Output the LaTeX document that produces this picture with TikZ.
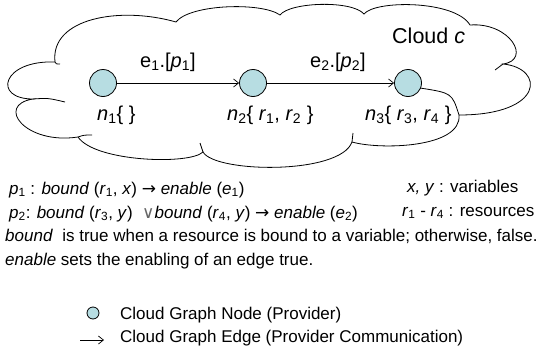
\documentclass[tikz,border=0pt]{standalone}
\usepackage{fontspec}
\setmainfont{Liberation Sans}
\newfontfamily\symbfont{DejaVu Sans}
\usetikzlibrary{arrows.meta}
\definecolor{nodefill}{RGB}{183,221,226}
\newcommand{\vsub}[2]{\textit{#1}\textsubscript{#2}}

\begin{document}
\begin{tikzpicture}[x=1pt,y=-1pt,
  cgnode/.style={circle,draw,fill=nodefill,inner sep=0pt,minimum size=27pt,line width=0.8pt},
  cgedge/.style={-{Straight Barb[length=5pt,width=8pt]},line width=0.7pt},
  big/.style={font=\fontsize{20}{24}\selectfont,inner sep=0pt,anchor=base west},
  txt/.style={font=\fontsize{17}{20}\selectfont,inner sep=0pt,anchor=base west}]
  \useasboundingbox (0,0) rectangle (548,356);
  % cloud outline
  \draw [line width=0.8pt] (33,99) .. controls (-8,99) and (2,60) .. (55,62)
    .. controls (50,18) and (120,6) .. (176,22)
    .. controls (190,4) and (262,2) .. (280,15)
    .. controls (290,2) and (352,0) .. (364,14)
    .. controls (375,0) and (455,0) .. (470,25)
    .. controls (510,22) and (532,60) .. (503,64)
    .. controls (545,68) and (545,115) .. (459,115)
    .. controls (462,148) and (380,150) .. (352,142)
    .. controls (340,175) and (215,173) .. (203,152)
    .. controls (190,165) and (95,162) .. (78,137)
    .. controls (25,145) and (-5,105) .. (33,99) -- cycle;
  % inner tails of the puffs
  \draw [line width=0.8pt] (33,99) .. controls (48,98) .. (65,102);
  \draw [line width=0.8pt] (78,137) .. controls (84,135) .. (92,135);
  \draw [line width=0.8pt] (203,152) .. controls (201,148) .. (200,143);
  \draw [line width=0.8pt] (352,142) .. controls (353,138) .. (353,133);
  \draw [line width=0.8pt] (459,115) .. controls (452,93) .. (420,88);
  \draw [line width=0.8pt] (503,64) -- (495,70);
  \draw [line width=0.8pt] (55,62) .. controls (56,64) .. (60,64);

  % graph
  \foreach \i/\x in {1/103,2/253,3/408}
    \node [cgnode] (n\i) at (\x,83) {};
  \draw [cgedge] (n1) -- (n2);
  \draw [cgedge] (n2) -- (n3);
  \node [big] (e1lab) at (140,67) {e\textsubscript{1}.[\vsub{p}{1}]};
  \node [big] (e2lab) at (310,67) {e\textsubscript{2}.[\vsub{p}{2}]};
  \node [big] (n1lab) at (97,120) {\vsub{n}{1}\{ \}};
  \node [big] (n2lab) at (227,120) {\vsub{n}{2}\{ \vsub{r}{1}, \vsub{r}{2} \}};
  \node [big] (n3lab) at (365,120) {\vsub{n}{3}\{ \vsub{r}{3}, \vsub{r}{4} \}};
  \node [big, font=\fontsize{21.5}{25}\selectfont] (cloudlab) at (392,43) {Cloud \textit{c}};

  % predicates
  \node [txt] (pred1) at (9,194) {\vsub{p}{1} : \textit{bound} (\vsub{r}{1}, \textit{x}) {\symbfont→} \textit{enable} (\vsub{e}{1})};
  \node [txt] (pred2) at (9,218) {\vsub{p}{2}: \textit{bound} (\vsub{r}{3}, \textit{y})\ \ {\symbfont\color{black!60}∨}\textit{bound} (\vsub{r}{4}, \textit{y}) {\symbfont→} \textit{enable} (\vsub{e}{2})};
  \node [txt] (vars) at (407,192) {\textit{x, y} : variables};
  \node [txt] (res) at (402,216) {\vsub{r}{1} - \vsub{r}{4} : resources};
  \node [txt] (bnd) at (5,241) {\textit{bound}\ \ is true when a resource is bound to a variable; otherwise, false.};
  \node [txt] (enb) at (5,265) {\textit{enable} sets the enabling of an edge true.};

  % legend
  \node [cgnode, minimum size=12pt] (legnode) at (93,313) {};
  \coordinate (legA) at (80,340);
  \coordinate (legB) at (104,340);
  \draw [cgedge] (legA) -- (legB);
  \node [txt] (legnodetxt) at (120,319) {Cloud Graph Node (Provider)};
  \node [txt] (legedgetxt) at (120,342) {Cloud Graph Edge (Provider Communication)};
\end{tikzpicture}
\end{document}
